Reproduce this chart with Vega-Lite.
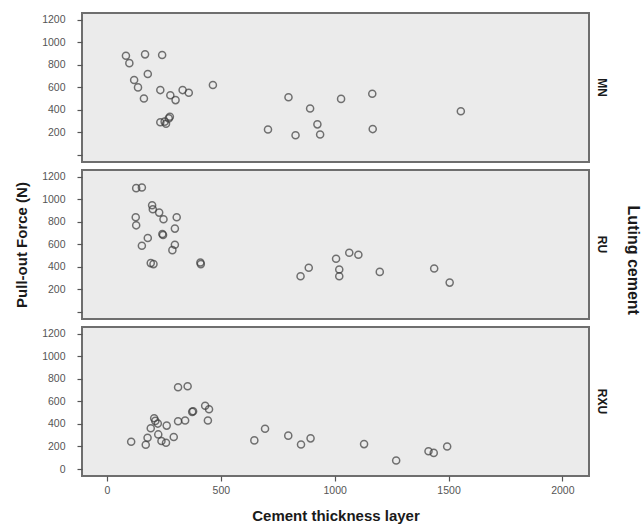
{
  "$schema": "https://vega.github.io/schema/vega-lite/v6.json",
  "background": "white",
  "padding": {"left": 13, "top": 12, "right": 2, "bottom": 4},
  "datasets": {
    "pull": [
      {"cement": "MN", "thickness": 83, "force": 881},
      {"cement": "MN", "thickness": 98, "force": 815},
      {"cement": "MN", "thickness": 167, "force": 893},
      {"cement": "MN", "thickness": 242, "force": 887},
      {"cement": "MN", "thickness": 179, "force": 719},
      {"cement": "MN", "thickness": 119, "force": 666},
      {"cement": "MN", "thickness": 136, "force": 600},
      {"cement": "MN", "thickness": 162, "force": 501},
      {"cement": "MN", "thickness": 234, "force": 576},
      {"cement": "MN", "thickness": 278, "force": 531},
      {"cement": "MN", "thickness": 301, "force": 487},
      {"cement": "MN", "thickness": 332, "force": 576},
      {"cement": "MN", "thickness": 359, "force": 552},
      {"cement": "MN", "thickness": 465, "force": 621},
      {"cement": "MN", "thickness": 234, "force": 290},
      {"cement": "MN", "thickness": 259, "force": 278},
      {"cement": "MN", "thickness": 271, "force": 325},
      {"cement": "MN", "thickness": 276, "force": 340},
      {"cement": "MN", "thickness": 253, "force": 296},
      {"cement": "MN", "thickness": 707, "force": 227},
      {"cement": "MN", "thickness": 797, "force": 513},
      {"cement": "MN", "thickness": 828, "force": 176},
      {"cement": "MN", "thickness": 892, "force": 412},
      {"cement": "MN", "thickness": 924, "force": 272},
      {"cement": "MN", "thickness": 936, "force": 182},
      {"cement": "MN", "thickness": 1028, "force": 498},
      {"cement": "MN", "thickness": 1165, "force": 543},
      {"cement": "MN", "thickness": 1167, "force": 230},
      {"cement": "MN", "thickness": 1554, "force": 388},
      {"cement": "RU", "thickness": 128, "force": 1099},
      {"cement": "RU", "thickness": 153, "force": 1105},
      {"cement": "RU", "thickness": 198, "force": 947},
      {"cement": "RU", "thickness": 201, "force": 912},
      {"cement": "RU", "thickness": 229, "force": 882},
      {"cement": "RU", "thickness": 248, "force": 823},
      {"cement": "RU", "thickness": 306, "force": 841},
      {"cement": "RU", "thickness": 126, "force": 841},
      {"cement": "RU", "thickness": 128, "force": 769},
      {"cement": "RU", "thickness": 179, "force": 656},
      {"cement": "RU", "thickness": 153, "force": 588},
      {"cement": "RU", "thickness": 243, "force": 692},
      {"cement": "RU", "thickness": 246, "force": 683},
      {"cement": "RU", "thickness": 298, "force": 740},
      {"cement": "RU", "thickness": 298, "force": 597},
      {"cement": "RU", "thickness": 287, "force": 549},
      {"cement": "RU", "thickness": 192, "force": 434},
      {"cement": "RU", "thickness": 204, "force": 425},
      {"cement": "RU", "thickness": 410, "force": 440},
      {"cement": "RU", "thickness": 412, "force": 425},
      {"cement": "RU", "thickness": 850, "force": 318},
      {"cement": "RU", "thickness": 886, "force": 392},
      {"cement": "RU", "thickness": 1006, "force": 472},
      {"cement": "RU", "thickness": 1020, "force": 377},
      {"cement": "RU", "thickness": 1020, "force": 318},
      {"cement": "RU", "thickness": 1064, "force": 526},
      {"cement": "RU", "thickness": 1104, "force": 508},
      {"cement": "RU", "thickness": 1198, "force": 356},
      {"cement": "RU", "thickness": 1437, "force": 386},
      {"cement": "RU", "thickness": 1505, "force": 261},
      {"cement": "RXU", "thickness": 106, "force": 242},
      {"cement": "RXU", "thickness": 170, "force": 215},
      {"cement": "RXU", "thickness": 178, "force": 278},
      {"cement": "RXU", "thickness": 192, "force": 361},
      {"cement": "RXU", "thickness": 207, "force": 451},
      {"cement": "RXU", "thickness": 212, "force": 427},
      {"cement": "RXU", "thickness": 223, "force": 403},
      {"cement": "RXU", "thickness": 225, "force": 307},
      {"cement": "RXU", "thickness": 239, "force": 248},
      {"cement": "RXU", "thickness": 259, "force": 233},
      {"cement": "RXU", "thickness": 262, "force": 385},
      {"cement": "RXU", "thickness": 293, "force": 284},
      {"cement": "RXU", "thickness": 312, "force": 424},
      {"cement": "RXU", "thickness": 343, "force": 430},
      {"cement": "RXU", "thickness": 312, "force": 725},
      {"cement": "RXU", "thickness": 354, "force": 734},
      {"cement": "RXU", "thickness": 374, "force": 507},
      {"cement": "RXU", "thickness": 378, "force": 513},
      {"cement": "RXU", "thickness": 431, "force": 561},
      {"cement": "RXU", "thickness": 448, "force": 531},
      {"cement": "RXU", "thickness": 443, "force": 430},
      {"cement": "RXU", "thickness": 647, "force": 254},
      {"cement": "RXU", "thickness": 694, "force": 358},
      {"cement": "RXU", "thickness": 796, "force": 296},
      {"cement": "RXU", "thickness": 852, "force": 218},
      {"cement": "RXU", "thickness": 894, "force": 272},
      {"cement": "RXU", "thickness": 1129, "force": 221},
      {"cement": "RXU", "thickness": 1270, "force": 75},
      {"cement": "RXU", "thickness": 1412, "force": 158},
      {"cement": "RXU", "thickness": 1435, "force": 143},
      {"cement": "RXU", "thickness": 1494, "force": 200}
    ]
  },
  "data": {"name": "pull"},
  "title": {
    "text": "Luting cement",
    "orient": "right",
    "anchor": "middle",
    "fontSize": 16,
    "fontWeight": "bold",
    "color": "#1a1a1a",
    "offset": 16,
    "dx": -8
  },
  "spacing": 6,
  "vconcat": [
    {
      "width": 507,
      "height": 149,
      "title": {"text": "MN", "orient": "right", "anchor": "middle", "fontSize": 12, "fontWeight": "bold", "offset": 6, "color": "#1a1a1a"},
      "transform": [{"filter": "datum.cement == 'MN'"}],
      "mark": {"type": "point", "shape": "circle", "filled": false, "size": 50, "strokeWidth": 1.5, "color": "#3c3c3c"},
      "encoding": {
        "x": {
          "field": "thickness",
          "type": "quantitative",
          "scale": {"domain": [-110, 2117], "nice": false, "zero": false},
          "axis": null
        },
        "y": {
          "field": "force",
          "type": "quantitative",
          "scale": {"domain": [-62, 1260], "nice": false, "zero": false},
          "axis": {"title": null, "values": [0, 200, 400, 600, 800, 1000, 1200], "format": "d", "labelExpr": "datum.value == 0 ? '' : datum.label"}
        }
      }
    },
    {
      "width": 507,
      "height": 149,
      "title": {"text": "RU", "orient": "right", "anchor": "middle", "fontSize": 12, "fontWeight": "bold", "offset": 6, "color": "#1a1a1a"},
      "transform": [{"filter": "datum.cement == 'RU'"}],
      "mark": {"type": "point", "shape": "circle", "filled": false, "size": 50, "strokeWidth": 1.5, "color": "#3c3c3c"},
      "encoding": {
        "x": {
          "field": "thickness",
          "type": "quantitative",
          "scale": {"domain": [-110, 2117], "nice": false, "zero": false},
          "axis": null
        },
        "y": {
          "field": "force",
          "type": "quantitative",
          "scale": {"domain": [-62, 1260], "nice": false, "zero": false},
          "axis": {"title": "Pull-out Force (N)", "values": [0, 200, 400, 600, 800, 1000, 1200], "format": "d", "labelExpr": "datum.value == 0 ? '' : datum.label"}
        }
      }
    },
    {
      "width": 507,
      "height": 149,
      "title": {"text": "RXU", "orient": "right", "anchor": "middle", "fontSize": 12, "fontWeight": "bold", "offset": 6, "color": "#1a1a1a"},
      "transform": [{"filter": "datum.cement == 'RXU'"}],
      "mark": {"type": "point", "shape": "circle", "filled": false, "size": 50, "strokeWidth": 1.5, "color": "#3c3c3c"},
      "encoding": {
        "x": {
          "field": "thickness",
          "type": "quantitative",
          "scale": {"domain": [-110, 2117], "nice": false, "zero": false},
          "axis": {"title": "Cement thickness layer", "values": [0, 500, 1000, 1500, 2000], "format": "d", "labelPadding": 4, "titlePadding": 13}
        },
        "y": {
          "field": "force",
          "type": "quantitative",
          "scale": {"domain": [-62, 1260], "nice": false, "zero": false},
          "axis": {"title": null, "values": [0, 200, 400, 600, 800, 1000, 1200], "format": "d"}
        }
      }
    }
  ],
  "config": {
    "font": "Liberation Sans",
    "view": {"fill": "#ebebeb", "stroke": "#6e6e6e", "strokeWidth": 2},
    "axis": {
      "grid": false,
      "domain": false,
      "tickColor": "#555555",
      "tickSize": 5,
      "tickWidth": 1.2,
      "labelFontSize": 10.5,
      "labelColor": "#555555",
      "titleFontSize": 15,
      "titleFontWeight": "bold",
      "titleColor": "#1a1a1a"
    },
    "axisY": {"labelPadding": 12, "titlePadding": 12}
  }
}
